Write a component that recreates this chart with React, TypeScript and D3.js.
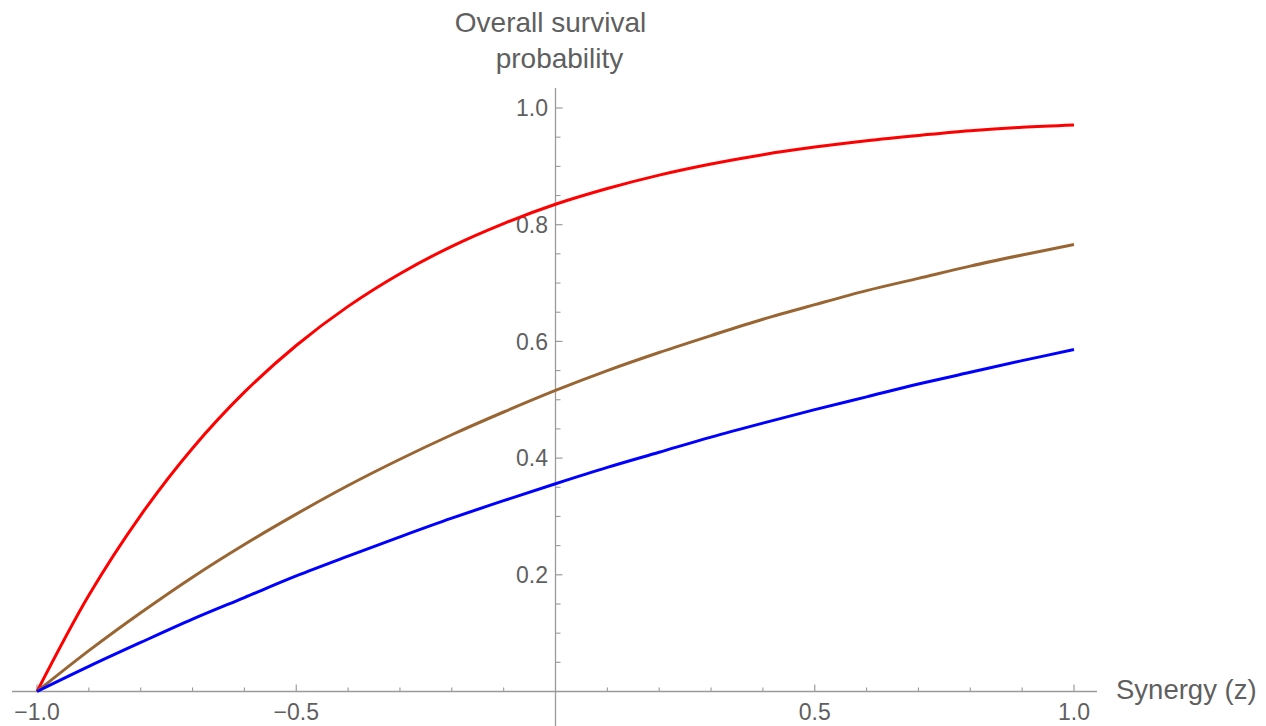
import React from "react";
import * as d3 from "d3";

const zValues = [-1, -0.9, -0.8, -0.7, -0.6, -0.5, -0.4, -0.3, -0.2, -0.1, 0, 0.1, 0.2, 0.3, 0.4, 0.5, 0.6, 0.7, 0.8, 0.9, 1.0];
const redSeries = [0, 0.165, 0.302, 0.417, 0.513, 0.593, 0.660, 0.716, 0.763, 0.802, 0.835, 0.862, 0.885, 0.904, 0.920, 0.933, 0.944, 0.953, 0.961, 0.967, 0.971];
const brownSeries = [0, 0.070, 0.135, 0.196, 0.252, 0.304, 0.353, 0.398, 0.440, 0.479, 0.516, 0.550, 0.581, 0.610, 0.638, 0.663, 0.687, 0.708, 0.729, 0.748, 0.766];
const blueSeries = [0, 0.043, 0.084, 0.124, 0.161, 0.198, 0.232, 0.265, 0.297, 0.327, 0.356, 0.384, 0.410, 0.436, 0.460, 0.483, 0.505, 0.527, 0.547, 0.567, 0.586];

const xMajorTicks = [-1.0, -0.5, 0.5, 1.0];
const xTickLabels = ["\u22121.0", "\u22120.5", "0.5", "1.0"];
const yMajorTicks = [0.2, 0.4, 0.6, 0.8, 1.0];
const yTickLabels = ["0.2", "0.4", "0.6", "0.8", "1.0"];

const W = 1266;
const H = 726;
const FONT = "'Liberation Sans', Arial, Helvetica, sans-serif";
const AXIS = "#9a9a9a";
const TEXT = "#5f5f5f";

export default function App() {
  const x = d3.scaleLinear().domain([-1, 1]).range([37, 1074]);
  const y = d3.scaleLinear().domain([0, 1]).range([691.5, 108]);

  const line = d3
    .line<[number, number]>()
    .x((d) => x(d[0]))
    .y((d) => y(d[1]))
    .curve(d3.curveCatmullRom.alpha(0.5));

  const series = [
    { name: "red", values: redSeries, color: "#ff0000" },
    { name: "brown", values: brownSeries, color: "#996633" },
    { name: "blue", values: blueSeries, color: "#0000ff" },
  ];

  const xMinor = d3.range(-10, 11).map((i) => i / 10).filter((v) => Math.abs(v) > 1e-9 && !xMajorTicks.some((m) => Math.abs(m - v) < 1e-9));
  const yMinor = d3.range(1, 21).map((i) => i / 20).filter((v) => !yMajorTicks.some((m) => Math.abs(m - v) < 1e-9));

  const x0 = x(0);
  const y0 = y(0);

  return (
    <svg width={W} height={H} style={{ position: "absolute", left: 0, top: 0, background: "#fff" }} fontFamily={FONT}>
      {/* axes */}
      <line x1={12} x2={1097} y1={y0} y2={y0} stroke={AXIS} strokeWidth={1.3} />
      <line x1={x0} x2={x0} y1={88} y2={H} stroke={AXIS} strokeWidth={1.3} />

      {/* x ticks */}
      {xMajorTicks.map((v) => (
        <line key={"xM" + v} x1={x(v)} x2={x(v)} y1={y0} y2={y0 - 7} stroke={AXIS} strokeWidth={1.2} />
      ))}
      {xMinor.map((v) => (
        <line key={"xm" + v} x1={x(v)} x2={x(v)} y1={y0} y2={y0 - 4} stroke={AXIS} strokeWidth={1.1} />
      ))}
      {xMajorTicks.map((v, i) => (
        <text key={"xl" + v} x={x(v)} y={720} textAnchor="middle" fontSize={23} fill={TEXT}>
          {xTickLabels[i]}
        </text>
      ))}

      {/* y ticks */}
      {yMajorTicks.map((v) => (
        <line key={"yM" + v} x1={x0} x2={x0 + 7} y1={y(v)} y2={y(v)} stroke={AXIS} strokeWidth={1.2} />
      ))}
      {yMinor.map((v) => (
        <line key={"ym" + v} x1={x0} x2={x0 + 5} y1={y(v)} y2={y(v)} stroke={AXIS} strokeWidth={1.1} />
      ))}
      {yMajorTicks.map((v, i) => (
        <text key={"yl" + v} x={548} y={y(v)} dy="0.36em" textAnchor="end" fontSize={23} fill={TEXT}>
          {yTickLabels[i]}
        </text>
      ))}

      {/* axis labels */}
      <text x={550.5} y={32} textAnchor="middle" fontSize={28} fill={TEXT}>
        Overall survival
      </text>
      <text x={559.5} y={68} textAnchor="middle" fontSize={28} fill={TEXT}>
        probability
      </text>
      <text x={1116} y={699} textAnchor="start" fontSize={27.5} fill={TEXT}>
        Synergy (z)
      </text>

      {/* curves */}
      {series.map((s) => (
        <path
          key={s.name}
          d={line(zValues.map((z, i) => [z, s.values[i]] as [number, number])) || ""}
          fill="none"
          stroke={s.color}
          strokeWidth={3}
        />
      ))}
    </svg>
  );
}
